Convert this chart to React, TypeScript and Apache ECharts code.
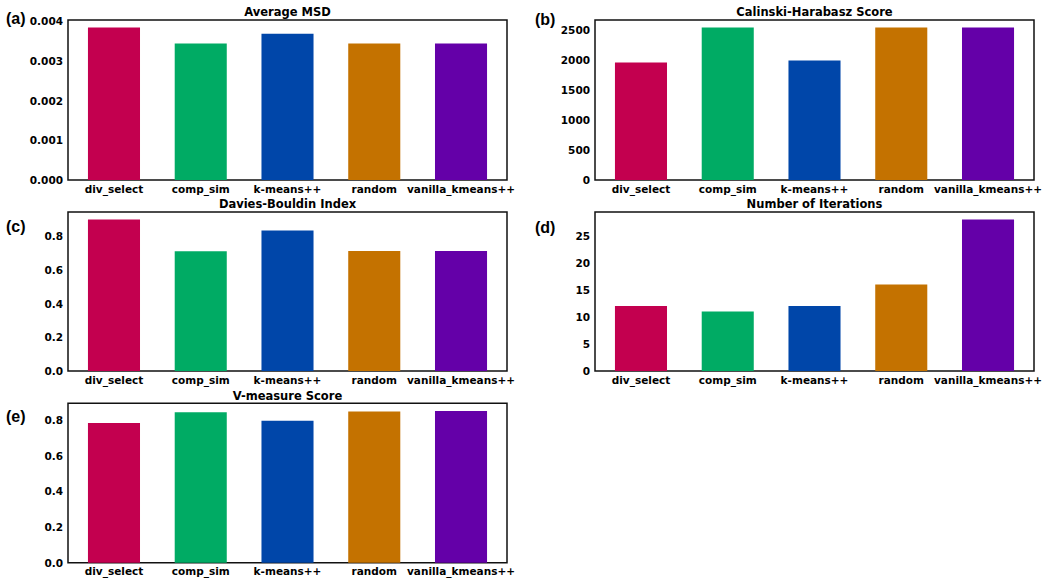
import React, { useEffect, useRef } from "react";
import * as echarts from "echarts";

const categories = ["div_select", "comp_sim", "k-means++", "random", "vanilla_kmeans++"];
const barColors = ["#C3004F", "#00AB64", "#0046A9", "#C47200", "#6400A8"];

const msdValues = [0.003842, 0.00344, 0.00369, 0.00344, 0.00344];
const chValues = [1962, 2545, 1995, 2545, 2545];
const dbValues = [0.899, 0.711, 0.834, 0.712, 0.713];
const iterValues = [12, 11, 12, 16, 28];
const vmValues = [0.783, 0.843, 0.796, 0.847, 0.851];

const panelTitles = ["Average MSD", "Calinski-Harabasz Score", "Davies-Bouldin Index", "Number of Iterations", "V-measure Score"];
const panelLetters = ["(a)", "(b)", "(c)", "(d)", "(e)"];
const tickIntervals = [0.001, 500, 0.2, 5, 0.2];
const tickDecimals = [3, 0, 1, 0, 1];

const panelValues = [msdValues, chValues, dbValues, iterValues, vmValues];

// layout: plot rectangles [left, top, right, bottom] in page pixels
const plotRects = [
  [68, 20, 507, 180],
  [595, 20, 1034, 180],
  [68, 212, 507, 371],
  [595, 212, 1034, 371],
  [68, 403.3, 507, 562.7],
];
const letterPos = [
  [6, 18],
  [535, 19.5],
  [6, 226],
  [535, 227],
  [6, 416.5],
];

const W = 1050;
const H = 584;
const tickFont = "DejaVu Sans";

export default function App() {
  const ref = useRef<HTMLDivElement>(null);
  useEffect(() => {
    if (!ref.current) return;
    const chart = echarts.init(ref.current, null, { renderer: "svg" });
    const grid: any[] = [];
    const xAxis: any[] = [];
    const yAxis: any[] = [];
    const series: any[] = [];
    const title: any[] = [];
    const graphic: any[] = [];

    panelValues.forEach((vals, i) => {
      const [l, t, r, b] = plotRects[i];
      grid.push({
        left: l,
        top: t,
        width: r - l,
        height: b - t,
        show: true,
        borderColor: "#111",
        borderWidth: 1.5,
        backgroundColor: "transparent",
        containLabel: false,
      });
      xAxis.push({
        type: "value",
        gridIndex: i,
        min: -0.53,
        max: categories.length - 1 + 0.53,
        axisLine: { show: false },
        axisTick: { show: false },
        splitLine: { show: false },
        axisLabel: {
          customValues: categories.map((_, k) => k),
          formatter: (v: number) => categories[Math.round(v)] ?? "",
          fontFamily: tickFont,
          fontWeight: "bold",
          fontSize: 10.5,
          color: "#000",
          margin: 3,
        },
      });
      const ymax = Math.max(...vals) * 1.05;
      yAxis.push({
        type: "value",
        gridIndex: i,
        min: 0,
        max: ymax,
        interval: tickIntervals[i],
        axisLine: { show: false },
        axisTick: { show: false },
        splitLine: { show: false },
        axisLabel: {
          showMaxLabel: false,
          formatter: (v: number) => v.toFixed(tickDecimals[i]),
          fontFamily: tickFont,
          fontWeight: "bold",
          fontSize: 10.5,
          color: "#000",
          margin: 5,
        },
      });
      series.push({
        type: "bar",
        xAxisIndex: i,
        yAxisIndex: i,
        barWidth: "60%",
        data: vals.map((v, k) => ({
          value: [k, v],
          itemStyle: { color: barColors[k] },
        })),
      });
      title.push({
        text: panelTitles[i],
        left: (l + r) / 2,
        top: t - 14.2,
        textAlign: "center",
        padding: 0,
        textStyle: {
          fontFamily: tickFont,
          fontWeight: "bold",
          fontSize: 11.5,
          lineHeight: 13,
          color: "#000",
        },
      });
      graphic.push({
        type: "text",
        x: letterPos[i][0],
        y: letterPos[i][1],
        style: {
          text: panelLetters[i],
          fontFamily: "Liberation Sans",
          fontWeight: "bold",
          fontSize: 16,
          fill: "#000",
          verticalAlign: "middle",
          align: "left",
        },
      });
    });

    chart.setOption({
      animation: false,
      backgroundColor: "#fff",
      grid,
      xAxis,
      yAxis,
      series,
      title,
      graphic,
    });
    return () => chart.dispose();
  }, []);
  return (
    <div
      ref={ref}
      style={{ position: "absolute", left: 0, top: 0, width: W, height: H }}
    />
  );
}
